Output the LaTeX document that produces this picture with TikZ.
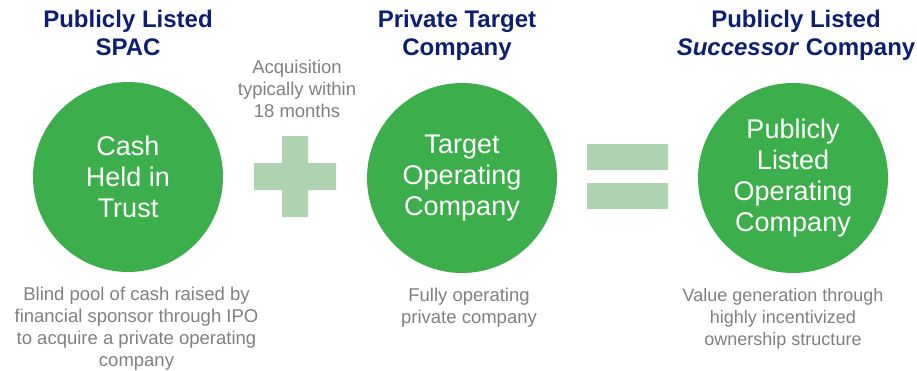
\documentclass[tikz,border=0pt]{standalone}
\usepackage{fontspec}
\setmainfont{Liberation Sans}
\definecolor{spacgreen}{HTML}{3DAE4C}
\definecolor{signgreen}{HTML}{AFD3B1}
\definecolor{headblue}{HTML}{0D1F70}
\definecolor{notegray}{HTML}{808080}

\begin{document}
\begin{tikzpicture}[x=1pt, y=-1pt,
    stage/.style={circle, fill=spacgreen, minimum size=190pt, inner sep=0pt,
      text=white, align=center, font=\fontsize{27}{31}\selectfont},
    heading/.style={text=headblue, align=center, inner sep=0pt,
      font=\fontsize{24}{28}\selectfont\bfseries},
    note/.style={text=notegray, align=center, inner sep=0pt,
      font=\fontsize{18.5}{22}\selectfont}]
  \useasboundingbox (0,0) rectangle (917,370);

  \node[heading] (spachead) at (128,32.5) {Publicly Listed\\SPAC};
  \node[heading] (targethead) at (457,35) {Private Target\\Company};
  \node[heading] (succhead) at (796,35) {Publicly Listed\\\textit{Successor} Company};

  \node[stage] (cash) at (128,177) {Cash\\Held in\\Trust};
  \node[stage] (target) at (462,178) {Target\\Operating\\Company};
  \node[stage] (listed) at (793,178) {Publicly\\Listed\\Operating\\Company};

  \node[note] (timing) at (297,89) {Acquisition\\typically within\\18 months};
  \node[note] (cashnote) at (136.5,328.5) {Blind pool of cash raised by\\financial sponsor through IPO\\to acquire a private operating\\company};
  \node[note] (targetnote) at (469,307.5) {Fully operating\\private company};
  \node[note, font=\fontsize{18}{22}\selectfont] (listednote) at (783,319) {Value generation through\\highly incentivized\\ownership structure};

  \fill[signgreen] (254,163) rectangle (336,190) (282,136) rectangle (308,217);
  \fill[signgreen] (587,144) rectangle (668,170) (587,183) rectangle (668,209);
\end{tikzpicture}
\end{document}
